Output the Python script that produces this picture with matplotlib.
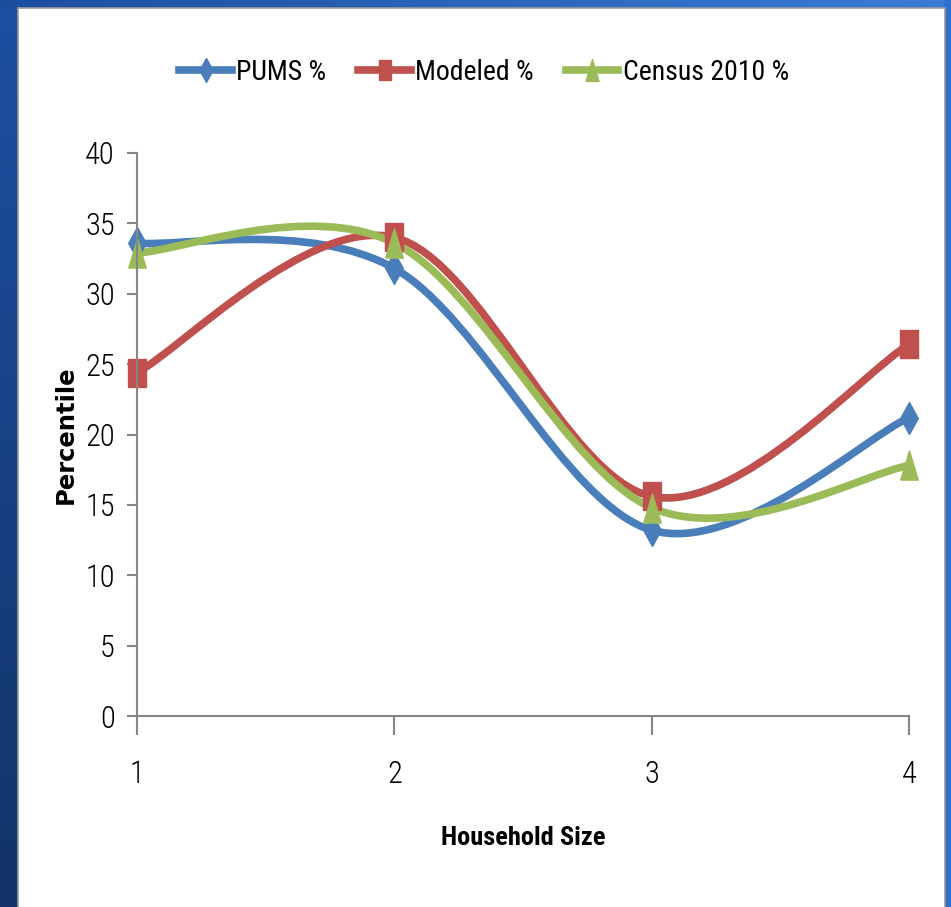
import numpy as np
import matplotlib
matplotlib.use('Agg')
import matplotlib.pyplot as plt
from matplotlib import font_manager
from matplotlib.path import Path
from matplotlib.patches import PathPatch, Rectangle
from matplotlib.lines import Line2D

household_size = [1, 2, 3, 4]
pums = [33.6, 31.8, 13.2, 21.2]
modeled = [24.4, 34.0, 15.6, 26.4]
census = [32.9, 33.6, 14.8, 17.8]
series_names = ['PUMS %', 'Modeled %', 'Census 2010 %']
y_ticks = [0, 5, 10, 15, 20, 25, 30, 35, 40]

# look for a narrow face, otherwise fall back
names = {f.name for f in font_manager.fontManager.ttflist}
narrow = [n for n in ['Roboto Condensed', 'Liberation Sans Narrow', 'Open Sans Condensed']
          if n in names]
plt.rcParams['font.family'] = narrow + ['Liberation Sans', 'DejaVu Sans']

W, H = 951, 907
fig = plt.figure(figsize=(W / 100, H / 100), dpi=100)

# blue frame background
bg = fig.add_axes([0, 0, 1, 1])
bg.set_xlim(0, W)
bg.set_ylim(H, 0)
bg.axis('off')
grad = np.linspace(0, 1, 256)
left_cols = np.array([[0x1d, 0x50, 0xa2]]) * (1 - grad[:, None]) + np.array([[0x12, 0x33, 0x68]]) * grad[:, None]
bg.imshow(left_cols[:, None, :] / 255, extent=[0, 20, H, 0], aspect='auto')
top_cols = np.array([[0x1c, 0x4e, 0x9e]]) * (1 - grad[:, None]) + np.array([[0x3a, 0x7c, 0xd8]]) * grad[:, None]
bg.imshow(top_cols[None, :, :] / 255, extent=[0, W, 10, 0], aspect='auto')
bg.add_patch(Rectangle((944, 0), 7, H, color='#2e6fd0', lw=0))
bg.add_patch(Rectangle((18, 8), 927, H, facecolor='white', edgecolor='#9a9a9a', lw=1.2))

ax = fig.add_axes([137 / W, (H - 716) / H, (909 - 137) / W, (716 - 153) / H])
ax.set_xlim(1, 4)
ax.set_ylim(0, 40)
ax.patch.set_alpha(0)
for s in ['top', 'right']:
    ax.spines[s].set_visible(False)
for s in ['left', 'bottom']:
    ax.spines[s].set_color('#868686')
    ax.spines[s].set_linewidth(1.5)
ax.set_xticks(household_size)
ax.set_yticks(y_ticks)
ax.tick_params(axis='y', direction='out', length=7, width=1.5, color='#868686',
               labelsize=22, pad=9)
ax.tick_params(axis='x', direction='out', length=14, width=1.5, color='#868686',
               labelsize=22, pad=18)
for lab in ax.get_xticklabels() + ax.get_yticklabels():
    lab.set_fontweight('light')

diamond = [(0, 1), (0.55, 0), (0, -1), (-0.55, 0), (0, 1)]
square = [(-0.62, -1), (0.62, -1), (0.62, 1), (-0.62, 1), (-0.62, -1)]
triangle = [(-0.6, -1), (0.6, -1), (0, 1), (-0.6, -1)]

styles = [
    (pums, '#4a7ebb', diamond, 23),
    (modeled, '#c0504d', square, 20),
    (census, '#9bbb59', triangle, 21),
]


def smooth_path(xs, ys):
    # Excel-like smoothed line: cubic bezier through each pair of points
    pts = list(zip(xs, ys))
    n = len(pts)
    verts = [pts[0]]
    codes = [Path.MOVETO]
    for i in range(n - 1):
        p0 = np.array(pts[max(i - 1, 0)])
        p1 = np.array(pts[i])
        p2 = np.array(pts[i + 1])
        p3 = np.array(pts[min(i + 2, n - 1)])
        c1 = p1 + (p2 - p0) / 6
        c2 = p2 - (p3 - p1) / 6
        verts += [tuple(c1), tuple(c2), tuple(p2)]
        codes += [Path.CURVE4] * 3
    return Path(verts, codes)


for vals, col, mk, ms in styles:
    ax.add_patch(PathPatch(smooth_path(household_size, vals), facecolor='none',
                           edgecolor=col, lw=5.5, capstyle='round', joinstyle='round',
                           clip_on=False))
    ax.plot(household_size, vals, ls='none', marker=mk, ms=ms, color=col,
            mec=col, clip_on=False)

ax.set_xlabel('Household Size', fontsize=19, fontweight='bold', labelpad=26)
fig.text(66 / W, 1 - 435 / H, 'Percentile', rotation=90, fontsize=17.5, fontweight='bold',
         family='DejaVu Sans', ha='center', va='center')

handles = [Line2D([], [], color=c, lw=5.5, marker=m, ms=s * 0.75)
           for (v, c, m, s) in styles]
fig.legend(handles, series_names, loc='center', bbox_to_anchor=(484 / W, 1 - 72 / H),
           ncol=3, frameon=False, fontsize=20, handlelength=1.9, handletextpad=0.15,
           columnspacing=1.15)

fig.savefig('out.png', dpi=100)
